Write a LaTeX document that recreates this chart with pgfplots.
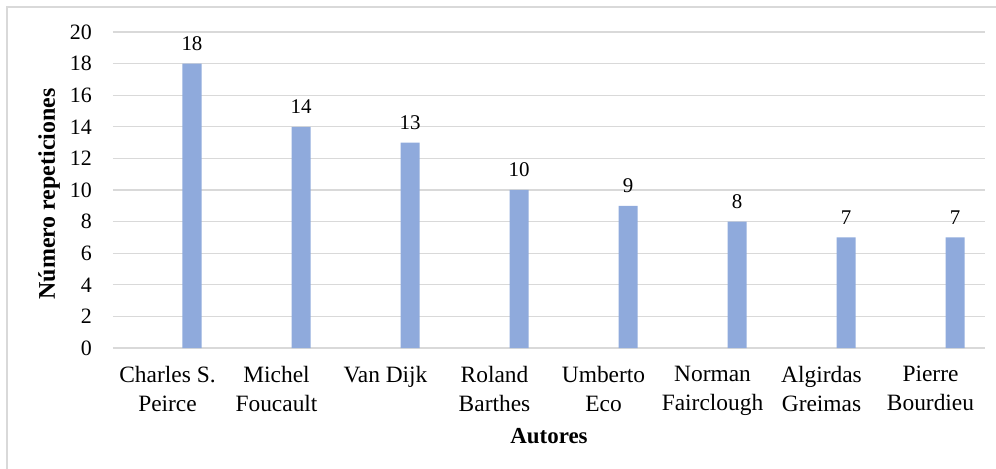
\documentclass[border=0pt]{standalone}
\usepackage{pgfplots}
\pgfplotsset{compat=1.18}
\usepackage{fontspec}
\setmainfont{Liberation Serif}
\definecolor{barblue}{HTML}{8FAADC}
\definecolor{gridgray}{HTML}{D9D9D9}
\begin{document}
\begin{tikzpicture}
\useasboundingbox (-113bp,-121bp) rectangle (883bp,348bp);
\draw[gridgray, line width=1.2bp] (-106bp,-125bp) -- (-106bp,341bp) -- (884bp,341bp);
\begin{axis}[
  at={(0,0)}, anchor=south west,
  scale only axis, width=872bp, height=316bp,
  xmin=-0.5, xmax=7.5, ymin=0, ymax=20,
  ytick={0,2,...,20},
  xtick={0,...,7},
  xticklabels={{Charles S.\\Peirce},{Michel\\Foucault},{Van Dijk},{Roland\\Barthes},{Umberto\\Eco},{Norman\\Fairclough},{Algirdas\\Greimas},{Pierre\\Bourdieu}},
  axis line style={draw=none},
  major tick length=0pt,
  ymajorgrids, grid style={gridgray, line width=1.3bp},
  /pgf/number format/assume math mode=true,
  yticklabel style={font=\fontsize{22}{26}\selectfont, anchor=east, inner sep=0pt, xshift=-21bp},
  xticklabel style={font=\fontsize{23.5}{29}\selectfont, align=center, anchor=north, inner sep=0pt, yshift=-18bp},
  ylabel={Número repeticiones},
  ylabel style={font=\fontsize{24}{28}\selectfont\bfseries, at={([xshift=-64bp,yshift=-4bp]axis description cs:0,0.5)}, anchor=center},
  xlabel={Autores},
  xlabel style={font=\fontsize{23}{28}\selectfont\bfseries, at={(axis description cs:0.5,0)}, anchor=base, yshift=-95bp},
  ybar, bar width=19bp, bar shift=24.5bp,
  nodes near coords,
  every node near coord/.append style={font=\fontsize{21}{25}\selectfont, anchor=base, inner sep=0pt, yshift=13bp, text=black},
  clip=false,
]
\addplot[fill=barblue, draw=none] coordinates {(0,18) (1,14) (2,13) (3,10) (4,9) (5,8) (6,7) (7,7)};
\end{axis}
\end{tikzpicture}
\end{document}
